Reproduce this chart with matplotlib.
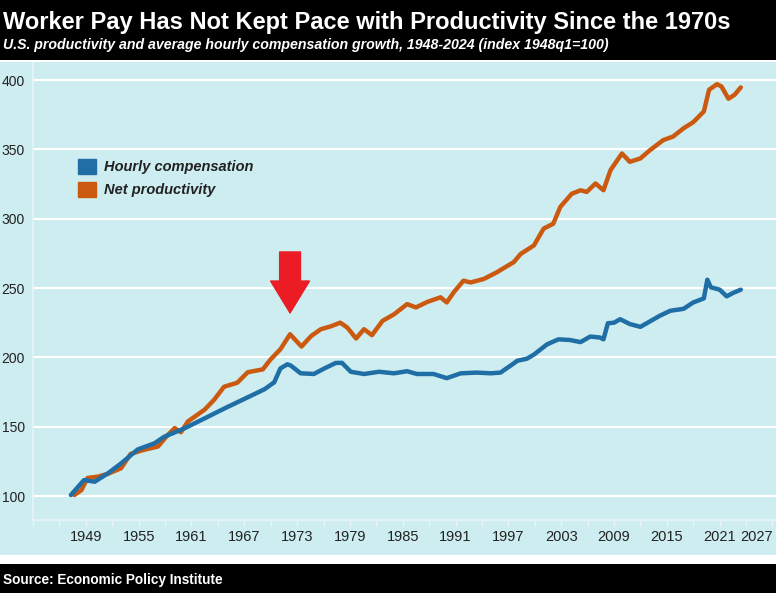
import matplotlib as mpl
import matplotlib.pyplot as plt
import matplotlib.patches as mpatches
import numpy as np

# Valores (indice 1948q1 = 100)
comp_years = [1948.3, 1949.8, 1951.0, 1952.5, 1954.0, 1955.9, 1957.8, 1958.9, 1961.2, 1963.5,
              1965.7, 1968.0, 1970.3, 1971.4, 1972.1, 1972.9, 1973.3, 1974.4, 1975.9, 1977.1,
              1978.4, 1979.1, 1980.1, 1981.6, 1983.3, 1985.0, 1986.5, 1987.6, 1989.5, 1991.0,
              1992.6, 1994.4, 1996.0, 1997.1, 1998.6, 1999.0, 2000.1, 2000.9, 2002.4, 2003.7,
              2005.0, 2006.2, 2007.3, 2008.4, 2008.8, 2009.3, 2010.0, 2010.7, 2011.8, 2013.0,
              2014.1, 2015.2, 2016.4, 2017.9, 2019.0, 2020.2, 2020.6, 2021.0, 2022.0, 2022.8,
              2023.5, 2024.4]
comp_values = [100.7, 111.5, 110.3, 116.3, 123.5, 133.6, 138.0, 142.7, 148.8, 156.0,
               163.0, 170.0, 177.0, 182.0, 192.0, 195.0, 194.0, 188.5, 188.0, 192.0,
               196.0, 196.0, 189.6, 188.0, 189.6, 188.5, 190.0, 188.0, 188.0, 185.0,
               188.5, 189.0, 188.5, 189.0, 195.6, 197.5, 199.0, 202.0, 209.4, 213.0,
               212.5, 211.0, 215.0, 214.3, 213.0, 224.6, 225.0, 227.5, 224.0, 222.0,
               226.0, 230.0, 233.6, 235.0, 239.6, 242.5, 256.0, 250.5, 248.8, 244.0,
               246.4, 248.8]

prod_years = [1948.7, 1949.5, 1950.2, 1951.4, 1952.5, 1954.0, 1955.1, 1956.6, 1958.2, 1959.3,
              1960.1, 1960.8, 1961.6, 1963.5, 1964.6, 1965.7, 1967.2, 1968.4, 1970.1, 1971.0,
              1972.1, 1973.2, 1974.5, 1975.6, 1976.7, 1977.8, 1978.9, 1979.7, 1980.7, 1981.6,
              1982.5, 1983.7, 1985.0, 1986.5, 1987.5, 1988.8, 1990.3, 1991.0, 1991.8, 1992.9,
              1993.7, 1995.2, 1996.7, 1997.9, 1998.6, 1999.4, 2000.9, 2002.0, 2003.1, 2003.9,
              2005.2, 2006.2, 2006.9, 2007.9, 2008.8, 2009.6, 2010.9, 2011.8, 2013.0, 2014.1,
              2015.6, 2016.7, 2017.9, 2019.0, 2020.2, 2020.8, 2021.7, 2022.2, 2023.0, 2023.7,
              2024.4]
prod_values = [100.7, 104.3, 113.0, 114.0, 116.0, 120.0, 130.4, 133.3, 135.7, 144.0,
               149.0, 146.0, 153.8, 162.3, 169.6, 178.8, 181.7, 189.3, 191.3, 198.6,
               205.8, 216.7, 207.8, 215.4, 220.3, 222.3, 225.0, 221.5, 213.6, 220.3,
               216.0, 226.3, 231.0, 238.4, 236.0, 240.0, 243.3, 239.6, 247.0, 255.3,
               254.0, 256.5, 261.4, 266.0, 268.6, 274.6, 280.7, 292.8, 296.4, 308.5,
               318.0, 320.5, 319.3, 325.4, 320.5, 335.0, 347.0, 341.0, 343.5, 349.5,
               356.7, 359.2, 365.2, 369.6, 377.3, 393.0, 397.0, 395.4, 386.5, 389.4,
               394.7]

# Eixo x: marcas a cada 3 anos, rotulos a cada 6 (como no original)
xtick_pos = list(range(1944, 2029, 3))
xtick_labels = ["1949", "1955", "1961", "1967", "1973", "1979", "1985",
                "1991", "1997", "2003", "2009", "2015", "2021", "2027"]
ytick_pos = [100, 150, 200, 250, 300, 350, 400]

series_names = ["Hourly compensation", "Net productivity"]

BLUE = "#1f6ea6"
ORANGE = "#cb5a10"
CYAN = "#cdedf0"
NARROW = ["Liberation Sans Narrow", "Liberation Sans", "DejaVu Sans"]

mpl.rcParams["font.family"] = ["Liberation Sans", "DejaVu Sans"]

fig = plt.figure(figsize=(7.76, 5.93), dpi=100, facecolor=CYAN)

# Faixa preta do titulo e do rodape
fig.patches.append(mpatches.Rectangle((0, 1 - 60 / 593), 1, 60 / 593, transform=fig.transFigure,
                                      facecolor="black", edgecolor="none", zorder=0))
fig.patches.append(mpatches.Rectangle((0, 1 - 62 / 593), 1, 2 / 593, transform=fig.transFigure,
                                      facecolor="white", edgecolor="none", zorder=0))
fig.patches.append(mpatches.Rectangle((0, 29 / 593), 1, 9 / 593, transform=fig.transFigure,
                                      facecolor="white", edgecolor="none", zorder=0))
fig.patches.append(mpatches.Rectangle((0, 0), 1, 29 / 593, transform=fig.transFigure,
                                      facecolor="black", edgecolor="none", zorder=0))

fig.text(3 / 776, 1 - 28.5 / 593, "Worker Pay Has Not Kept Pace with Productivity Since the 1970s",
         color="white", fontsize=17, fontweight="bold", family=NARROW, va="baseline")
fig.text(3 / 776, 1 - 49 / 593,
         "U.S. productivity and average hourly compensation growth, 1948-2024 (index 1948q1=100)",
         color="white", fontsize=10.2, fontweight="bold", style="italic", family=NARROW, va="baseline")
fig.text(3 / 776, 1 - 584 / 593, "Source: Economic Policy Institute",
         color="white", fontsize=9.8, fontweight="bold", family=NARROW, va="baseline")

ax = fig.add_axes([33 / 776, 73 / 593, 743 / 776, 458 / 593])
ax.set_facecolor(CYAN)

ax.plot(prod_years, prod_values, color=ORANGE, lw=3.2, solid_capstyle="round",
        solid_joinstyle="round", label=series_names[1], zorder=3)
ax.plot(comp_years, comp_values, color=BLUE, lw=3.2, solid_capstyle="round",
        solid_joinstyle="round", label=series_names[0], zorder=4)

ax.set_xlim(1944, 2028.4)
ax.set_ylim(82.7, 413)

ax.set_yticks(ytick_pos)
ax.yaxis.grid(True, color="white", lw=1.5)
ax.set_axisbelow(True)
ax.tick_params(axis="y", length=0, pad=6, labelsize=10, labelcolor="#222222")

ax.set_xticks(xtick_pos)
labels = []
for t in xtick_pos:
    if t >= 1950 and (t - 1950) % 6 == 0:
        labels.append(xtick_labels[(t - 1950) // 6])
    else:
        labels.append("")
ax.set_xticklabels(labels)
ax.tick_params(axis="x", length=4, width=1, color="#e8f4f5", pad=3, labelsize=10.5,
               labelcolor="#222222")
# o ultimo rotulo fica dentro da figura
ax.get_xticklabels()[-1].set_horizontalalignment("right")

for side in ["top", "right"]:
    ax.spines[side].set_visible(False)
for side in ["left", "bottom"]:
    ax.spines[side].set_color("#e8f4f5")
    ax.spines[side].set_linewidth(1.2)

# Seta vermelha apontando para 1973
ax.annotate("", xy=(1973.2, 232), xytext=(1973.2, 276),
            arrowprops=dict(arrowstyle="simple,head_length=1.15,head_width=1.4,tail_width=0.75",
                            color="#ec1c24", mutation_scale=20, shrinkA=0, shrinkB=0), zorder=5)

handles = [mpatches.Patch(color=BLUE, label=series_names[0]),
           mpatches.Patch(color=ORANGE, label=series_names[1])]
leg = ax.legend(handles=handles, loc="upper left", bbox_to_anchor=(0.0606, 0.788),
                frameon=False, borderpad=0, borderaxespad=0, handlelength=1.2,
                handleheight=1.2, handletextpad=0.55, labelspacing=0.5,
                prop=dict(size=10.5, weight="bold", style="italic"))
for txt in leg.get_texts():
    txt.set_color("#222222")

plt.savefig("out.png", dpi=100, facecolor=fig.get_facecolor())
